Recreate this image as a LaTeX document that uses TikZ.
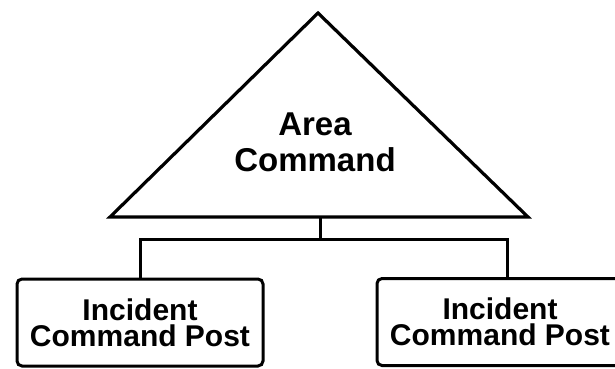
\documentclass[tikz,border=0pt]{standalone}
\usepackage{fontspec}
\setmainfont{Liberation Sans}
\begin{document}
\begin{tikzpicture}[x=1pt,y=-1pt,
  line/.style={draw=black,line width=3.2pt},
  post/.style={draw=black,line width=3pt,rounded corners=5pt,minimum width=246pt,minimum height=87pt,inner sep=0pt,align=center,font=\bfseries\fontsize{30}{26}\selectfont},
  areatext/.style={inner sep=0pt,align=center,font=\bfseries\fontsize{33}{36}\selectfont}]
\useasboundingbox (0,0) rectangle (615,368);
\clip (0,0) rectangle (615,368);
\fill[white] (0,0) rectangle (615,368);
% triangle
\coordinate (apex) at (318,13);
\coordinate (bl) at (110,217);
\coordinate (br) at (528,217);
\draw[line,line join=miter] (apex) -- (br) -- (bl) -- cycle;
\node[areatext] (area) at (315,142.5) {Area\\Command};
\coordinate (tribase) at (320,217);
\coordinate (hub) at (320,239);
% boxes
\node[post] (left) at (140,322.5) {Incident\\Command Post};
\node[post] (right) at (500,322) {Incident\\Command Post};
% connectors
\draw[line width=3pt] (tribase) -- (hub);
\draw[line width=3pt] (left.north) |- (hub) -| ([xshift=7pt]right.north);
\end{tikzpicture}
\end{document}
